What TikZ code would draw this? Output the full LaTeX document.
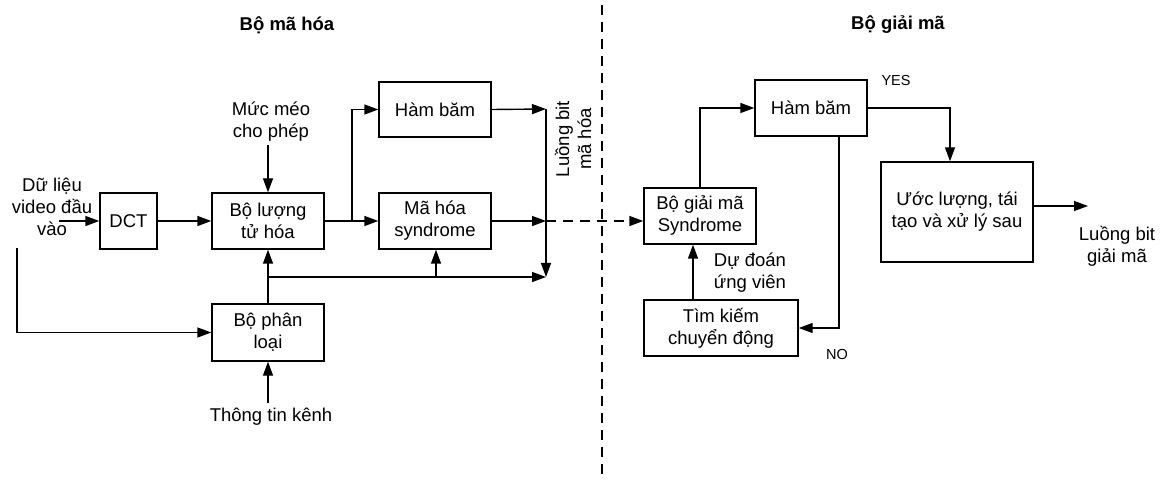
\documentclass[tikz,border=0pt]{standalone}
\usepackage{fontspec}
\setmainfont{Liberation Sans}
\usetikzlibrary{arrows.meta,calc}
\begin{document}
\begin{tikzpicture}[x=1pt,y=-1pt,
  line width=1.4pt,
  >={Triangle[length=14pt,width=10pt]},
  blk/.style={draw,inner sep=0pt,align=center,font=\fontsize{18.5}{22}\selectfont},
  lbl/.style={inner sep=0pt,align=center,font=\fontsize{18.5}{22}\selectfont},
  small/.style={inner sep=0pt,font=\fontsize{14.5}{17}\selectfont},
  ttl/.style={inner sep=0pt,font=\fontsize{18.5}{22}\selectfont\bfseries},
  dsh/.style={dash pattern=on 10pt off 7pt}]
\useasboundingbox (0,0) rectangle (1168,481);

% titles and the divider
\node[ttl] (tenc) at (287,25) {Bộ mã hóa};
\node[ttl] (tdec) at (898,25) {Bộ giải mã};
\coordinate (dtop) at (602,5);
\coordinate (dbot) at (602,477);
\draw[dsh,line width=1.3pt] (dtop) -- (dbot);

% encoder blocks
\node[blk,minimum width=57pt,minimum height=56pt] (dct) at (128.5,221) {DCT};
\node[blk,minimum width=112pt,minimum height=56pt] (quant) at (268,221) {Bộ lượng\\tử hóa};
\node[blk,minimum width=112pt,minimum height=57pt] (cls) at (268,332.5) {Bộ phân\\loại};
\node[blk,minimum width=112pt,minimum height=55pt] (hash1) at (435,109.5) {Hàm băm};
\node[blk,minimum width=112pt,minimum height=56pt] (synd) at (435,221) {Mã hóa\\syndrome};

% encoder labels
\node[lbl] (input) at (52,207) {Dữ liệu\\video đầu\\vào};
\node[lbl] (dist) at (271,122) {Mức méo\\cho phép};
\node[lbl] (chan) at (271,417) {Thông tin kênh};
\node[lbl,rotate=90] (bits) at (573,139) {Luồng bit\\mã hóa};

% encoder connectors
\coordinate (inA) at (59,221);
\coordinate (inB) at (17,248);
\coordinate (distA) at (268,145);
\coordinate (chanA) at (268,403);
\coordinate (jq) at (352,221);
\coordinate (jc) at (268,277);
\coordinate (c1) at (546,109);
\coordinate (c2) at (546,221);
\coordinate (c3) at (546,277);
\coordinate (js) at (436,277);

\draw[->] (inA) -- (dct.west);
\draw[->] (inB) |- (cls.west);
\draw[->] (dct.east) -- (quant.west);
\draw[->] (distA) -- (quant.north);
\draw[->] (chanA) -- (cls.south);
\draw[->] (cls.north) -- (quant.south);
\draw[->] (quant.east) -- (synd.west);
\draw[->] (jq) |- (hash1.west);
\draw[->] (jc) -- (c3);
\draw[->] (js) -- (js |- synd.south);
\draw[->] (hash1.east) -- (c1);
\draw[->] (c1) -- (c3);
\draw[->] (synd.east) -- (c2);

% decoder blocks
\node[blk,minimum width=112pt,minimum height=56pt] (dsyn) at (700,216) {Bộ giải mã\\Syndrome};
\node[blk,minimum width=112pt,minimum height=56pt] (hash2) at (811,108) {Hàm băm};
\node[blk,minimum width=154pt,minimum height=56pt] (search) at (721,328) {Tìm kiếm\\chuyển động};
\node[blk,minimum width=152pt,minimum height=100pt] (est) at (957,212) {Ước lượng, tái\\tạo và xử lý sau};

% decoder labels
\node[lbl] (pred) at (750,273) {Dự đoán\\ứng viên};
\node[small] (yes) at (896,81) {YES};
\node[small] (no) at (837,355) {NO};
\node[lbl] (outl) at (1117,246) {Luồng bit\\giải mã};
\coordinate (outA) at (1088,206);

% decoder connectors
\draw[dsh,->] (c2) -- (c2 -| dsyn.west);
\draw[->] (dsyn.north) |- (hash2.west);
\draw[->] (hash2.east) -| ([xshift=-7pt]est.north);
\draw[->] ([xshift=28pt]hash2.south) |- (search.east);
\draw[->] ([xshift=-28pt]search.north) -- ([xshift=-28pt]search.north |- dsyn.south);
\draw[->] (est.east |- outA) -- (outA);
\end{tikzpicture}
\end{document}
